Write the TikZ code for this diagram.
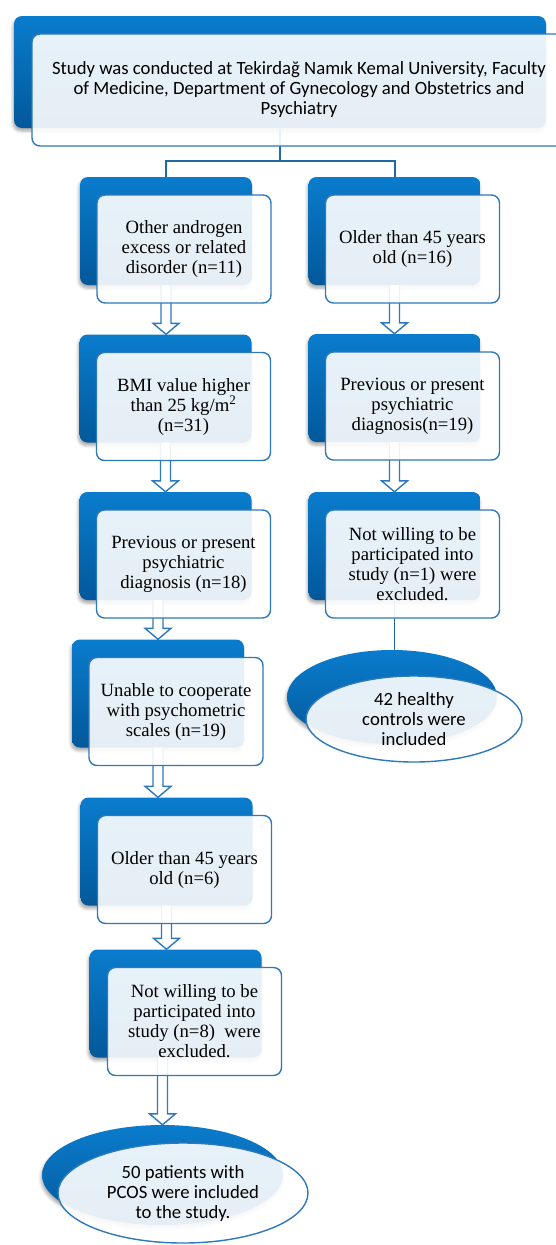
\documentclass[tikz,border=0pt]{standalone}
\usepackage{fontspec}
\setmainfont{Liberation Serif}
\newfontfamily\calibrifont{Carlito}
\usetikzlibrary{shapes.geometric, calc, shadows.blur}
\definecolor{panelblue}{HTML}{0A7CCD}
\definecolor{paneldeep}{HTML}{03589A}
\definecolor{edgeblue}{HTML}{2E78BC}
\definecolor{linkblue}{HTML}{1F6AA5}

\begin{document}
\begin{tikzpicture}[x=1pt, y=-1pt,
    % Back panels and the cards laid over them
    panel/.style={rectangle, rounded corners=8pt, minimum width=172pt, minimum height=108pt, top color=panelblue, bottom color=paneldeep, draw=none, blur shadow={shadow xshift=-1pt, shadow yshift=-3pt, shadow blur radius=3pt, shadow opacity=35}},
    card/.style={rectangle, rounded corners=8pt, draw=edgeblue, line width=1.4pt, fill=white, fill opacity=0.9, text opacity=1, minimum width=174pt, minimum height=108pt, align=center, inner sep=0pt, font=\fontsize{18.7}{20}\selectfont},
    oval/.style={ellipse, top color=panelblue, bottom color=paneldeep, draw=none, inner sep=0pt, blur shadow={shadow xshift=-1pt, shadow yshift=-3pt, shadow blur radius=3pt, shadow opacity=35}},
    ovalcard/.style={ellipse, draw=edgeblue, line width=1.4pt, fill=white, fill opacity=0.9, text opacity=1, inner sep=0pt, align=center, font=\calibrifont\fontsize{18.7}{20}\selectfont},
    % Connectors
    link/.style={draw=linkblue, line width=2pt},
    hollow/.style={draw=edgeblue, line width=1.4pt, fill=white,
        to path={let \p1=(\tikztostart), \p2=(\tikztotarget) in
            (\x1-5pt,\y1) -- (\x1-5pt,\y2+11pt) -- (\x1-13pt,\y2+11pt) -- (\x1,\y2)
            -- (\x1+13pt,\y2+11pt) -- (\x1+5pt,\y2+11pt) -- (\x1+5pt,\y1)}},
]
\clip (0,0) rectangle (556,1245);

% ============================================================================
% BACK PANELS
% ============================================================================
\node[panel, minimum width=532pt, minimum height=112pt] (sitepanel) at (280,72) {};

% Patients column
\node[panel] (lp1) at (166,231) {};
\node[panel] (lp2) at (165.5,388.5) {};
\node[panel] (lp3) at (165.5,546) {};
\node[panel] (lp4) at (158,693.5) {};
\node[panel] (lp5) at (166.5,851.5) {};
\node[panel] (lp6) at (175.5,1003.5) {};
\node[oval, minimum width=241pt, minimum height=100pt] (lendpanel) at (162.5,1175) {};

% Controls column
\node[panel] (rp1) at (394.5,231) {};
\node[panel] (rp2) at (394.5,388) {};
\node[panel] (rp3) at (394.5,546) {};
\node[oval, minimum width=210pt, minimum height=94pt] (rendpanel) at (392,697) {};

% ============================================================================
% CONNECTORS
% ============================================================================
\coordinate (split) at ([yshift=-33pt]sitepanel.south);
\draw[link] (sitepanel.south) -- (split) -| (lp1.north);
\draw[link] (split) -| (rp1.north);

\draw[hollow] (lp1.south) to (lp2.north);
\draw[hollow] (lp2.south) to (lp3.north);
\draw[hollow] (lp4.north |- lp3.south) to (lp4.north);
\draw[hollow] (lp4.south) to (lp5.north);
\draw[hollow] (lp5.south) to (lp6.north);
\draw[hollow] (lendpanel.north |- lp6.south) to (lendpanel.north);

\draw[hollow] (rp1.south) to (rp2.north);
\draw[hollow] (rp2.south) to (rp3.north);
\draw[link, line width=1.6pt] (rp3.south) -- (rp3.south |- rendpanel.north);

% ============================================================================
% CARDS
% ============================================================================
\node[card, font=\calibrifont\fontsize{18.7}{20}\selectfont, minimum width=534pt, minimum height=112pt] (site) at ([shift={(19,18)}]sitepanel) {Study was conducted at Tekirdağ Namık Kemal University, Faculty\\of Medicine, Department of Gynecology and Obstetrics and\\Psychiatry};

\node[card] (lc1) at ([shift={(18,18)}]lp1) {Other androgen\\excess or related\\disorder (n=11)};
\node[card] (lc2) at ([shift={(18,18)}]lp2) {BMI value higher\\than 25 kg/m\textsuperscript{2}\\(n=31)};
\node[card] (lc3) at ([shift={(18,18)}]lp3) {Previous or present\\psychiatric\\diagnosis (n=18)};
\node[card] (lc4) at ([shift={(18,18)}]lp4) {Unable to cooperate\\with psychometric\\scales (n=19)};
\node[card] (lc5) at ([shift={(18,18)}]lp5) {Older than 45 years\\old (n=6)};
\node[card] (lc6) at ([shift={(19,18)}]lp6) {Not willing to be\\participated into\\study (n=8)\ \ were\\excluded.};
\node[ovalcard, minimum width=250pt, minimum height=100pt] (lend) at ([shift={(20.5,18)}]lendpanel) {50 patients with\\PCOS were included\\to the study.};

\node[card] (rc1) at ([shift={(18,18)}]rp1) {Older than 45 years\\old (n=16)};
\node[card] (rc2) at ([shift={(18,18)}]rp2) {Previous or present\\psychiatric\\diagnosis(n=19)};
\node[card] (rc3) at ([shift={(18,18)}]rp3) {Not willing to be\\participated into\\study (n=1) were\\excluded.};
\node[ovalcard, minimum width=216pt, minimum height=86pt] (rend) at ([shift={(22,22)}]rendpanel) {42 healthy\\controls were\\included};

\end{tikzpicture}
\end{document}
